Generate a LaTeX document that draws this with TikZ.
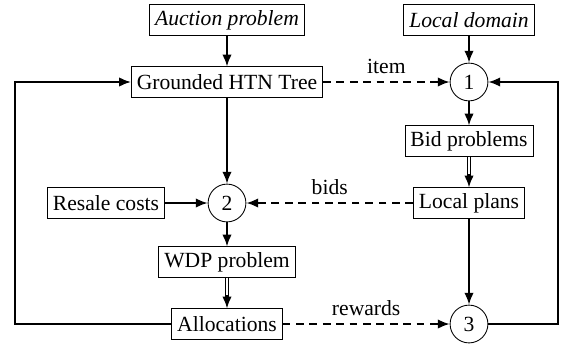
\documentclass[tikz,border=0pt]{standalone}
\usepackage{fontspec}
\setmainfont{Liberation Serif}
\usetikzlibrary{arrows.meta}

\begin{document}
\begin{tikzpicture}[x=0.01626cm, y=-0.01626cm,
    box/.style={draw, thin, inner xsep=2.5pt, inner ysep=2pt, minimum height=14pt},
    stage/.style={draw, thin, circle, minimum size=17.5pt, inner sep=0pt},
    flow/.style={line width=0.9pt, -{Latex[length=5.5pt,width=4.4pt]}},
    msg/.style={flow, dash pattern=on 3.6pt off 2.6pt},
    shaft/.style={line width=0.5pt, double, double distance=1.1pt, shorten >=4pt}]
    \useasboundingbox (0,0) rectangle (564,346);

    % Inputs
    \node[box] (auction) at (227,20) {\itshape Auction problem};
    \node[box] (domain)  at (469,20) {\itshape Local domain};

    % Auctioneer side
    \node[box]   (htn)    at (227,82)  {Grounded HTN Tree};
    \node[box]   (resale) at (106,203) {Resale costs};
    \node[stage] (s2)     at (227,203) {2};
    \node[box]   (wdp)    at (227,262) {WDP problem};
    \node[box]   (alloc)  at (227,324) {Allocations};

    % Bidder side
    \node[stage] (s1)    at (469,82)  {1};
    \node[box]   (bidp)  at (469,141) {Bid problems};
    \node[box]   (plans) at (469,203) {Local plans};
    \node[stage] (s3)    at (469,324) {3};

    % Loop corners
    \coordinate (lft) at (15,324);
    \coordinate (rgt) at (558,324);

    % Solid flows
    \draw[flow] (auction) -- (htn);
    \draw[flow] (htn) -- (s2);
    \draw[flow] (resale) -- (s2);
    \draw[flow] (s2) -- (wdp);
    \draw[flow] (domain) -- (s1);
    \draw[flow] (s1) -- (bidp);
    \draw[flow] (plans) -- (s3);

    % Double flows: shaft, then the tip on top
    \foreach \a/\b in {wdp/alloc, bidp/plans}{
        \draw[shaft] (\a) -- (\b);
        \draw[flow] ([yshift=6pt]\b.north) -- (\b.north);
    }

    % Messages
    \draw[msg] (htn) -- node[above] {item} (s1);
    \draw[msg] (plans) -- node[above] {bids} (s2);
    \draw[msg] (alloc) -- node[above] {rewards} (s3);

    % Feedback loops
    \draw[flow] (alloc.west) -- (lft) |- (htn.west);
    \draw[flow] (s3.east) -- (rgt) |- (s1.east);

\end{tikzpicture}
\end{document}
